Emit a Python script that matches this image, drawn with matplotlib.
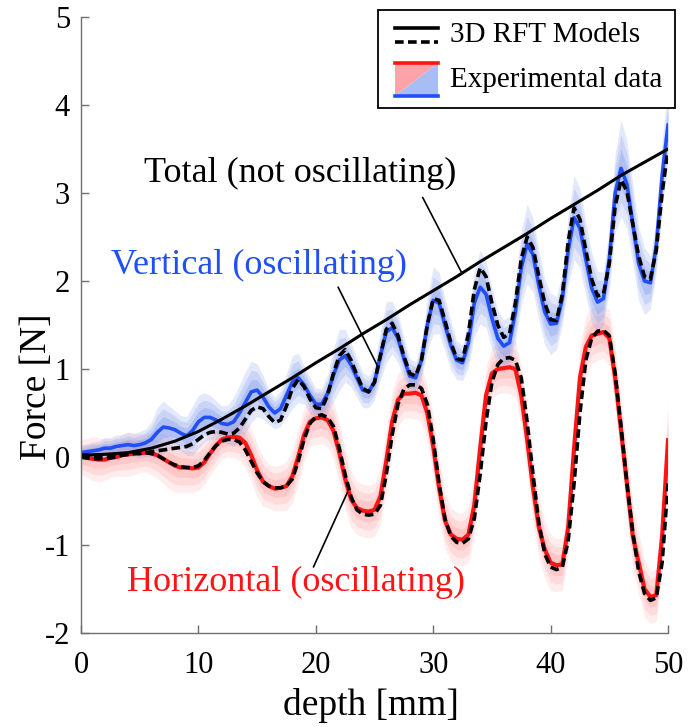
import numpy as np
import matplotlib
matplotlib.use("Agg")
import matplotlib.pyplot as plt
import matplotlib.transforms as mtrans
from matplotlib.patches import Rectangle, Polygon
from matplotlib.lines import Line2D

plt.rcParams['font.family'] = ['Liberation Serif', 'DejaVu Serif']
plt.rcParams['axes.unicode_minus'] = False

# ---------------- data ----------------
depth = np.linspace(0, 50, 101)  # 0.5 mm sampling

total_depth = [0, 2, 4, 6, 8, 10, 12, 14, 16, 18, 20, 22, 24, 26, 28, 30,
               32, 34, 36, 38, 40, 42, 44, 46, 48, 50]
total_force = [0.02, 0.03, 0.05, 0.10, 0.18, 0.29, 0.43, 0.58, 0.74, 0.90,
               1.07, 1.23, 1.40, 1.56, 1.73, 1.89, 2.05, 2.22, 2.38, 2.54,
               2.71, 2.87, 3.03, 3.20, 3.35, 3.50]

vert_model = [0.02, 0.02, 0.02, 0.02, 0.02, 0.02, 0.03, 0.03, 0.03, 0.04,
              0.04, 0.05, 0.06, 0.07, 0.08, 0.09, 0.10, 0.11, 0.12, 0.15,
              0.20, 0.25, 0.28, 0.29, 0.28, 0.26, 0.27, 0.33, 0.43, 0.53,
              0.57, 0.55, 0.46, 0.39, 0.42, 0.58, 0.78, 0.88, 0.80, 0.66,
              0.56, 0.55, 0.70, 0.95, 1.15, 1.22, 1.10, 0.93, 0.78, 0.74,
              0.85, 1.15, 1.45, 1.52, 1.38, 1.15, 0.95, 0.92, 1.10, 1.50,
              1.80, 1.78, 1.55, 1.30, 1.12, 1.10, 1.40, 1.90, 2.15, 2.05,
              1.75, 1.50, 1.36, 1.40, 1.75, 2.25, 2.50, 2.38, 2.05, 1.75,
              1.56, 1.55, 1.85, 2.45, 2.83, 2.70, 2.35, 2.02, 1.83, 1.85,
              2.20, 2.85, 3.15, 3.02, 2.65, 2.28, 2.05, 2.02, 2.35, 3.00,
              3.50]

vert_exp = [0.05, 0.06, 0.07, 0.08, 0.10, 0.10, 0.12, 0.13, 0.14, 0.13,
            0.14, 0.16, 0.20, 0.28, 0.34, 0.33, 0.31, 0.27, 0.24, 0.30,
            0.40, 0.45, 0.45, 0.42, 0.38, 0.37, 0.40, 0.50, 0.62, 0.74,
            0.76, 0.68, 0.57, 0.50, 0.55, 0.70, 0.85, 0.90, 0.82, 0.70,
            0.60, 0.60, 0.72, 0.93, 1.10, 1.15, 1.05, 0.90, 0.76, 0.74,
            0.85, 1.15, 1.42, 1.47, 1.35, 1.12, 0.92, 0.90, 1.10, 1.50,
            1.78, 1.75, 1.50, 1.27, 1.10, 1.07, 1.30, 1.75, 1.93, 1.85,
            1.58, 1.35, 1.26, 1.30, 1.65, 2.15, 2.42, 2.30, 1.95, 1.65,
            1.51, 1.52, 1.80, 2.35, 2.72, 2.60, 2.25, 1.92, 1.76, 1.80,
            2.25, 3.00, 3.28, 3.10, 2.65, 2.20, 2.00, 1.98, 2.40, 3.20,
            3.77]

vert_spread = [0.08, 0.09, 0.10, 0.10, 0.12, 0.12, 0.13, 0.12, 0.14, 0.13,
               0.15, 0.16, 0.20, 0.28, 0.30, 0.25, 0.22, 0.20, 0.22, 0.28,
               0.30, 0.28, 0.25, 0.22, 0.20, 0.22, 0.28, 0.32, 0.35, 0.35,
               0.30, 0.25, 0.20, 0.18, 0.20, 0.25, 0.30, 0.28, 0.22, 0.20,
               0.18, 0.18, 0.22, 0.30, 0.35, 0.30, 0.25, 0.22, 0.20, 0.18,
               0.20, 0.28, 0.35, 0.30, 0.28, 0.24, 0.20, 0.18, 0.22, 0.30,
               0.38, 0.35, 0.30, 0.28, 0.22, 0.20, 0.28, 0.38, 0.42, 0.38,
               0.35, 0.32, 0.30, 0.30, 0.35, 0.42, 0.45, 0.42, 0.40, 0.38,
               0.35, 0.30, 0.30, 0.40, 0.48, 0.45, 0.42, 0.40, 0.35, 0.30,
               0.35, 0.45, 0.55, 0.50, 0.45, 0.42, 0.38, 0.30, 0.30, 0.40,
               0.40]

horiz_model = [0.00, -0.01, -0.02, -0.02, -0.02, -0.01, 0.00, 0.02, 0.03, 0.04,
               0.05, 0.05, 0.04, 0.02, -0.02, -0.06, -0.09, -0.11, -0.12, -0.12,
               -0.10, -0.04, 0.05, 0.13, 0.18, 0.20, 0.20, 0.17, 0.08, -0.05,
               -0.18, -0.28, -0.33, -0.35, -0.35, -0.33, -0.25, -0.05, 0.20, 0.38,
               0.46, 0.48, 0.45, 0.35, 0.10, -0.20, -0.45, -0.60, -0.65, -0.66,
               -0.65, -0.55, -0.20, 0.25, 0.60, 0.77, 0.82, 0.82, 0.78, 0.60,
               0.20, -0.30, -0.70, -0.90, -0.97, -0.98, -0.93, -0.70, -0.20, 0.40,
               0.85, 1.05, 1.12, 1.13, 1.10, 0.90, 0.40, -0.20, -0.75, -1.10,
               -1.25, -1.28, -1.25, -0.95, -0.30, 0.50, 1.10, 1.35, 1.43, 1.44,
               1.38, 0.95, 0.35, -0.30, -0.85, -1.30, -1.55, -1.63, -1.60, -1.20,
               -0.30]

horiz_exp = [0.00, -0.01, -0.02, -0.03, -0.03, -0.01, 0.00, 0.02, 0.03, 0.04,
             0.04, 0.05, 0.04, 0.02, -0.02, -0.06, -0.10, -0.12, -0.12, -0.13,
             -0.12, -0.06, 0.04, 0.13, 0.20, 0.22, 0.23, 0.22, 0.16, 0.02,
             -0.15, -0.28, -0.33, -0.36, -0.35, -0.33, -0.22, 0.00, 0.25, 0.40,
             0.44, 0.45, 0.42, 0.30, 0.05, -0.25, -0.48, -0.58, -0.61, -0.62,
             -0.60, -0.45, -0.05, 0.40, 0.65, 0.72, 0.72, 0.73, 0.70, 0.50,
             0.12, -0.35, -0.72, -0.88, -0.93, -0.94, -0.88, -0.55, 0.10, 0.70,
             0.95, 1.00, 1.01, 1.02, 1.00, 0.70, 0.20, -0.35, -0.80, -1.05,
             -1.20, -1.23, -1.22, -0.80, 0.10, 0.90, 1.25, 1.38, 1.40, 1.42,
             1.35, 0.90, 0.30, -0.30, -0.90, -1.20, -1.50, -1.59, -1.57, -0.90,
             0.19]

horiz_spread = [0.20, 0.22, 0.25, 0.25, 0.24, 0.22, 0.22, 0.24, 0.25, 0.24,
                0.22, 0.22, 0.24, 0.26, 0.28, 0.30, 0.30, 0.28, 0.28, 0.27,
                0.26, 0.25, 0.25, 0.24, 0.22, 0.22, 0.24, 0.26, 0.28, 0.30,
                0.30, 0.28, 0.25, 0.25, 0.26, 0.28, 0.30, 0.32, 0.30, 0.28,
                0.30, 0.30, 0.30, 0.32, 0.35, 0.35, 0.32, 0.30, 0.30, 0.30,
                0.30, 0.32, 0.35, 0.35, 0.30, 0.28, 0.28, 0.30, 0.30, 0.32,
                0.35, 0.35, 0.32, 0.30, 0.30, 0.30, 0.32, 0.35, 0.35, 0.32,
                0.30, 0.28, 0.28, 0.30, 0.32, 0.35, 0.38, 0.38, 0.35, 0.32,
                0.32, 0.30, 0.30, 0.32, 0.35, 0.38, 0.35, 0.32, 0.30, 0.30,
                0.32, 0.35, 0.38, 0.40, 0.38, 0.35, 0.32, 0.30, 0.30, 0.40,
                0.45]

x_ticks = [0, 10, 20, 30, 40, 50]
y_ticks = [-2, -1, 0, 1, 2, 3, 4, 5]

# ---------------- styling ----------------
BLUE = '#1f4ff5'
RED = '#ff1414'
BLUE_BAND = '#7794ee'
RED_BAND = '#ff8c8c'
AX_GRAY = '#707070'

fig = plt.figure(figsize=(6.88, 7.27), dpi=100)
ax = fig.add_axes([81 / 688, 94 / 727, 587 / 688, 616 / 727])

vm = np.array(vert_exp); vs = np.array(vert_spread)
hm = np.array(horiz_exp); hs = np.array(horiz_spread)
for f, a in [(1.0, 0.16), (0.7, 0.18), (0.4, 0.22)]:
    ax.fill_between(depth, hm - f * hs, hm + f * hs, color=RED_BAND, alpha=a,
                    lw=0)
for f, a in [(1.0, 0.2), (0.7, 0.24), (0.4, 0.3)]:
    ax.fill_between(depth, vm - f * vs, vm + f * vs, color=BLUE_BAND, alpha=a,
                    lw=0)

ax.plot(depth, horiz_exp, color=RED, lw=3.0, solid_joinstyle='round')
ax.plot(depth, vert_exp, color=BLUE, lw=2.6, solid_joinstyle='round')

dash = (0, (2.4, 1.2))
ax.plot(depth, horiz_model, color='k', lw=2.6, ls=dash)
ax.plot(depth, vert_model, color='k', lw=2.6, ls=dash)
ax.plot(total_depth, total_force, color='k', lw=2.2)

ax.set_xlim(0, 50)
ax.set_ylim(-2, 5)
ax.set_xticks(x_ticks)
ax.set_yticks(y_ticks)
ax.set_xticklabels([str(v) for v in x_ticks])
ax.set_yticklabels([str(v) for v in y_ticks])
for s in ['top', 'right']:
    ax.spines[s].set_visible(False)
for s in ['left', 'bottom']:
    ax.spines[s].set_color(AX_GRAY)
    ax.spines[s].set_linewidth(1.0)
ax.tick_params(direction='in', length=6, width=1.0, color=AX_GRAY,
               labelsize=22)
ax.tick_params(axis='x', pad=13)
ax.tick_params(axis='y', pad=8)

ax.set_xlabel('depth [mm]', fontsize=27, va='center')
ax.xaxis.set_label_coords(0.494, -0.117)
ax.set_ylabel('Force [N]', fontsize=27, va='center')
ax.yaxis.set_label_coords(-0.076, 0.40)

# annotations
ax.text(18.65, 3.22, 'Total (not oscillating)', ha='center', va='center',
        fontsize=26, color='k')
ax.text(15.2, 2.18, 'Vertical (oscillating)', ha='center', va='center',
        fontsize=26, color=BLUE)
ax.text(18.3, -1.43, 'Horizontal (oscillating)', ha='center', va='center',
        fontsize=26, color=RED)
lead = dict(arrowstyle='-', lw=1.2, color='k', shrinkA=0, shrinkB=0)
ax.annotate('', xy=(32.45, np.interp(32.45, total_depth, total_force)),
            xytext=(29.1, 2.95), arrowprops=lead)
ax.annotate('', xy=(25.2, 1.05), xytext=(21.9, 1.93), arrowprops=lead)
ax.annotate('', xy=(22.7, -0.40), xytext=(19.8, -1.25), arrowprops=lead)

# legend (drawn in figure pixel coordinates, origin top-left)
pt = mtrans.Affine2D().scale(1 / 688, -1 / 727).translate(0, 1) + fig.transFigure
fig.add_artist(Rectangle((378, 10), 297, 98, fill=True, fc='white', ec='k',
                         lw=1.3, transform=pt))
fig.add_artist(Line2D([395, 438], [28, 28], color='k', lw=2.6, transform=pt))
fig.add_artist(Line2D([395, 438], [42, 42], color='k', lw=2.6, ls=dash,
                      transform=pt))
fig.add_artist(Polygon([(395, 63), (438, 63), (395, 96)], closed=True,
                       fc='#ffa3a8', ec='none', transform=pt))
fig.add_artist(Polygon([(438, 63), (438, 96), (395, 96)], closed=True,
                       fc='#a9bdf5', ec='none', transform=pt))
fig.add_artist(Line2D([395, 438], [63, 63], color=RED, lw=2.6, transform=pt))
fig.add_artist(Line2D([395, 438], [96, 96], color=BLUE, lw=2.6, transform=pt))
fig.text(450 / 688, 1 - 35 / 727, '3D RFT Models', fontsize=21, va='center',
         ha='left')
fig.text(450 / 688, 1 - 80 / 727, 'Experimental data', fontsize=21,
         va='center', ha='left')

fig.savefig('out.png', dpi=100)
